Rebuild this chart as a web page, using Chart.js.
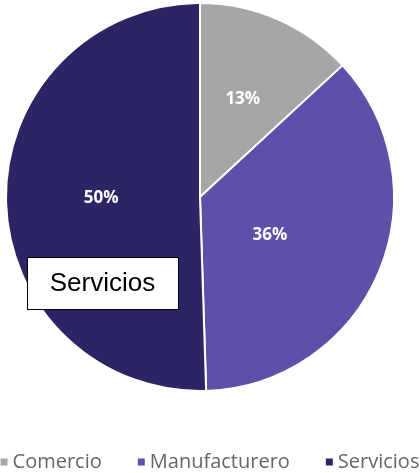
<!DOCTYPE html>
<html lang="es">
<head>
  <meta charset="UTF-8">
  <title>Distribución por sector</title>
  <style>
    body {
      margin: 0;
      padding: 0;
      background: #fff;
    }
    .chart-container {
      width: 420px;
      height: 473px;
    }
  </style>
</head>
<body>
  <div class="chart-container">
    <canvas id="pieChart"></canvas>
  </div>

  <script src="https://cdn.jsdelivr.net/npm/chart.js"></script>
  <script>
    // Sectores y porcentajes
    const sectores = ['Comercio', 'Manufacturero', 'Servicios'];
    const porcentajes = [13, 36, 50];
    const colores = ['#A6A6A6', '#5E4FA8', '#2B2566'];

    // Etiquetas de porcentaje dentro de cada porción
    const etiquetasPlugin = {
      id: 'etiquetas',
      afterDatasetsDraw(chart, args, opts) {
        const ctx = chart.ctx;
        const meta = chart.getDatasetMeta(0);
        ctx.save();
        ctx.fillStyle = '#fff';
        ctx.font = 'bold 17px "Open Sans"';
        ctx.textAlign = 'center';
        ctx.textBaseline = 'middle';
        meta.data.forEach((arc, i) => {
          const p = arc.getProps(['x', 'y', 'startAngle', 'endAngle', 'outerRadius'], true);
          const mid = (p.startAngle + p.endAngle) / 2 + (opts.giro[i] || 0);
          const r = p.outerRadius * opts.radio[i];
          ctx.fillText(chart.data.datasets[0].data[i] + '%', p.x + Math.cos(mid) * r, p.y + Math.sin(mid) * r);
        });
        ctx.restore();
      }
    };

    // Cuadro con el nombre del sector
    const cuadroPlugin = {
      id: 'cuadro',
      afterDraw(chart, args, opts) {
        const ctx = chart.ctx;
        ctx.save();
        ctx.fillStyle = '#fff';
        ctx.fillRect(opts.x, opts.y, opts.w, opts.h);
        ctx.strokeStyle = '#000';
        ctx.lineWidth = 1;
        ctx.strokeRect(opts.x + 0.5, opts.y + 0.5, opts.w, opts.h);
        ctx.fillStyle = '#000';
        ctx.font = '26px "Liberation Sans", Arial';
        ctx.textAlign = 'center';
        ctx.textBaseline = 'middle';
        ctx.fillText(opts.texto, opts.x + opts.w / 2, opts.y + opts.h / 2 + 1);
        ctx.restore();
      }
    };

    // Leyenda inferior
    const leyendaPlugin = {
      id: 'leyenda',
      afterDraw(chart, args, opts) {
        const ctx = chart.ctx;
        const fondo = chart.data.datasets[0].backgroundColor;
        ctx.save();
        ctx.font = '20px "Open Sans"';
        ctx.textBaseline = 'middle';
        ctx.textAlign = 'left';
        const anchos = chart.data.labels.map(t => ctx.measureText(t).width);
        const total = anchos.reduce((a, b) => a + b, 0) +
          chart.data.labels.length * (opts.caja + opts.sep) + (chart.data.labels.length - 1) * opts.hueco;
        let x = (chart.width - total) / 2;
        chart.data.labels.forEach((t, i) => {
          ctx.fillStyle = fondo[i];
          ctx.fillRect(x, opts.y - opts.caja / 2, opts.caja, opts.caja);
          x += opts.caja + opts.sep;
          ctx.fillStyle = '#666';
          ctx.fillText(t, x, opts.y);
          x += anchos[i] + opts.hueco;
        });
        ctx.restore();
      }
    };

    new Chart(document.getElementById('pieChart'), {
      type: 'pie',
      data: {
        labels: sectores,
        datasets: [{
          data: porcentajes,
          backgroundColor: colores,
          borderColor: '#fff',
          borderWidth: 2
        }]
      },
      options: {
        responsive: true,
        maintainAspectRatio: false,
        animation: false,
        layout: {
          padding: { top: 2, left: 5, right: 25, bottom: 81 }
        },
        plugins: {
          legend: { display: false },
          tooltip: { enabled: false },
          etiquetas: { radio: [0.55, 0.41, 0.51], giro: [0, 0.1, 0] },
          cuadro: { x: 27, y: 257, w: 151, h: 52, texto: 'Servicios' },
          leyenda: { y: 462, caja: 7, sep: 5, hueco: 36 }
        }
      },
      plugins: [etiquetasPlugin, cuadroPlugin, leyendaPlugin]
    });
  </script>
</body>
</html>
